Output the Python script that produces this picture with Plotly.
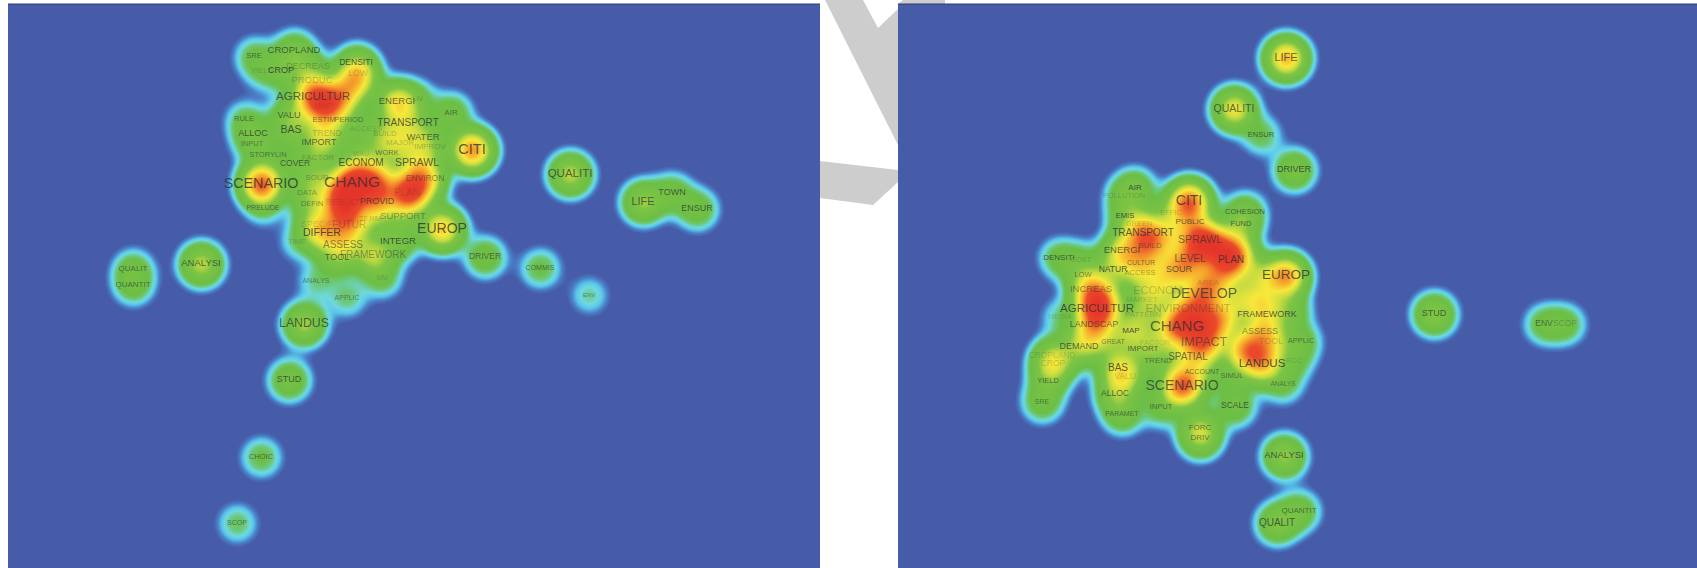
import numpy as np
import plotly.graph_objects as go

W, H = 1697, 568
A_RANGE = (8, 820)
B_RANGE = (898, 1697)
Y_RANGE = (4, 568)

A_TERMS = ["SRE","CROPLAND","DECREAS","DENSITI","YIELD","CROP","LOW","PRODUC","AGRICULTUR","MAP","ENERGI","LIV","AIR","RULE","VALU","ESTIM","PERIOD","ACCESS","TRANSPORT","BAS","ALLOC","TREND","BUILD","WATER","INPUT","IMPORT","MAJOR","IMPROV","CITI","STORYLIN","COVER","FACTOR","WAU","WORK","ECONOM","SPRAWL","SOUR","ENVIRON","SCENARIO","CHANG","DATA","PLAN","PRELUDE","DEFIN","RESULT","PROVID","TERM","SUPPORT","SPECIF","FUTUR","DIFFER","EUROP","TIME","ASSESS","INTEGR","FRAMEWORK","TOOL","DRIVER","ANALYS","APPLIC","SIM","LANDUS","ANALYSI","QUALIT","QUANTIT","COMMIS","ENV","STUD","CHOIC","SCOP","QUALITI","LIFE","TOWN","ENSUR","","","","","",""]
A_X = [254,294,308,356,262,281,358,312,313,323,397,418,451,244,289,324,349,366,408,291,253,327,385,423,252,319,400,430,472,268,295,318,361,387,361,417,317,425,261,352,307,407,263,312,343,377,370,403,317,349,322,442,297,343,398,373,337,485,316,347,382,304,201,133,133,540,589,289,261,237,570,643,672,697,375,340,335,350,412,345]
A_Y = [56,51,67,63,71,71,74,81,97,107,102,99,113,119,116,120,120,129,123,130,134,134,134,138,144,143,143,147,150,155,164,158,154,153,163,163,178,179,184,183,193,193,208,204,203,202,219,217,225,225,233,229,242,245,242,255,258,257,281,298,278,324,264,269,285,268,295,380,457,523,174,202,193,209,182,197,100,88,190,215]
A_WEIGHT = [.1,.18,.1,.12,.06,.12,.35,.14,.5,.3,.42,.08,.15,.08,.15,.08,.08,.06,.18,.14,.12,.2,.18,.16,.07,.15,.18,.1,.62,.06,.1,.08,.08,.1,.14,.22,.15,.38,.72,.75,.12,.55,.06,.1,.4,.38,.1,.12,.2,.32,.3,.5,.06,.22,.15,.3,.14,.15,.07,.08,.1,.3,.33,.12,.12,.11,.07,.18,.11,.09,.33,.28,.14,.15,.55,.3,.4,.28,.25,.18]
A_FONT = [7.5,9.5,9,8.5,7.5,9,8.5,9.5,11.5,8.5,9.5,7,8,7.5,9,7.5,7.5,8,10,10.5,9,8.5,8,9.5,7.5,9,8,8,14.5,7.5,8.5,8,7,7.5,10,10.5,8,8.5,14.3,15.5,8,10,7,7.5,9,9,8,9.5,9,10,10.5,14,7.5,10,9.5,10,9,8.5,7,7,6.5,12.3,9.5,8,8,7,6,9,7.5,7,11.5,11,9,9,8,8,8,8,8,8]
A_ALPHA = [.6,.7,.3,.75,.25,.8,.25,.3,.7,.2,.7,.3,.6,.6,.7,.6,.6,.2,.75,.75,.75,.3,.3,.7,.5,.7,.3,.3,.75,.55,.7,.3,.25,.6,.75,.75,.4,.5,.75,.7,.4,.2,.6,.5,.2,.7,.25,.45,.2,.3,.8,.75,.25,.55,.75,.45,.7,.6,.5,.5,.25,.7,.7,.6,.6,.6,.5,.7,.6,.6,.7,.7,.7,.7,0,0,0,0,0,0]

B_TERMS = ["DRIVER","AIR","POLLUTION","CITI","EMIS","EFFIC","COHESION","GREEN","PUBLIC","FUND","TRANSPORT","SPRAWL","BUILD","ENERGI","LEVEL","PLAN","DENSITI","COST","CULTUR","NATUR","ACCESS","SOUR","LOW","INCREAS","EUROP","AREA","DEVELOP","ECONOM","MARKET","AGRICULTUR","ENVIRONMENT","PATTERN","FRAMEWORK","LANDSCAP","MAP","CHANG","ASSESS","MEDIA","DEMAND","GREAT","IMPORT","IMPACT","FACTOR","TOOL","APPLIC","SPATIAL","TREND","CROPLAND","CROP","LANDUS","ROC","BAS","VALU","ACCOUNT","SIMUL","YIELD","SCENARIO","ANALYS","ALLOC","SRE","INPUT","SCALE","PARAMET","FORC","DRIV","ANALYSI","QUANTIT","QUALIT","STUD","ENV","SCOP","LIFE","QUALITI","ENSUR","","","","","","","","","","","","","",""]
B_X = [1294,1135,1124,1189,1125,1171,1245,1139,1190,1241,1143,1200,1150,1122,1190,1231,1059,1081,1141,1113,1140,1179,1083,1091,1286,1208,1204,1158,1142,1097,1188,1143,1267,1094,1131,1177,1260,1060,1079,1113,1143,1204,1155,1271,1301,1188,1158,1052,1053,1262,1294,1118,1125,1202,1232,1048,1182,1283,1115,1042,1161,1235,1122,1200,1200,1284,1299,1277,1434,1544,1565,1286,1234,1261,1215,1235,1165,1240,1262,1220,1200,1245,1290,1170,1220,1260,1105,1090]
B_Y = [170,188,196,201,216,213,212,224,222,224,233,240,246,251,259,260,258,260,263,270,273,270,275,290,276,283,294,291,300,309,309,315,315,325,331,327,332,317,347,342,349,343,343,342,341,357,361,356,364,364,361,368,377,372,376,381,386,384,394,402,407,406,414,428,438,456,511,523,314,324,324,58,109,135,245,250,235,300,300,320,322,350,310,270,275,275,300,340]
B_WEIGHT = [.2,.15,.1,.65,.1,.12,.14,.14,.2,.14,.35,.6,.3,.35,.35,.5,.12,.08,.2,.16,.16,.22,.1,.42,.6,.18,.4,.28,.1,.6,.35,.14,.18,.3,.22,.6,.25,.07,.18,.12,.1,.55,.12,.25,.12,.22,.1,.14,.28,.45,.09,.25,.24,.14,.1,.1,.7,.1,.18,.14,.12,.15,.15,.2,.2,.28,.15,.22,.26,.12,.12,.55,.42,.1,.45,.3,.25,.25,.25,.42,.4,.5,.15,.2,.25,.22,.2,.18]
B_FONT = [9,8,7.5,14,7.5,7.5,7.5,7.5,8,7.5,10,10.5,8,9.5,10,10,8,7.5,7,8.5,7.5,9,7.5,9.5,13.5,8,14,11,7.5,11.5,11.5,8,9,9,8,15,9,7.5,9,7,8,12.5,7.5,9,7.5,10,8,8.5,8.5,11.5,7.5,10,8.5,7,7.5,7.5,14,6.5,8.5,7,7.5,8.5,7,8,8,9.5,8,10,9,8.5,8.5,11,10.5,7.5,8,8,8,8,8,8,8,8,8,8,8,8,8,8]
B_ALPHA = [.75,.75,.25,.75,.8,.25,.7,.25,.7,.7,.75,.6,.5,.7,.65,.75,.75,.25,.6,.8,.4,.7,.55,.5,.75,.25,.7,.25,.25,.75,.3,.25,.75,.65,.8,.7,.55,.2,.7,.55,.7,.55,.2,.25,.55,.65,.55,.2,.25,.8,.2,.75,.25,.6,.55,.65,.7,.5,.7,.55,.6,.7,.6,.6,.6,.7,.6,.7,.7,.6,.3,.7,.7,.7,0,0,0,0,0,0,0,0,0,0,0,0,0,0]

SIGMA = 13.0
STEP = 2
COLORS = [[0,"#465CA8"],[.016,"#465CA8"],[.028,"#4A80C8"],[.042,"#58C4EA"],[.056,"#6ED8E0"],[.078,"#6CC878"],[.105,"#6CBE45"],[.25,"#7DC444"],[.35,"#C8DC40"],[.45,"#F7E83A"],[.6,"#F6A62C"],[.76,"#EA4A2A"],[1,"#E5352A"]]


def density(xr, xs, ys, ws):
    gx = np.arange(xr[0], xr[1] + STEP, STEP, dtype=float)
    gy = np.arange(Y_RANGE[0], Y_RANGE[1] + STEP, STEP, dtype=float)
    xx, yy = np.meshgrid(gx, gy)
    z = np.zeros_like(xx)
    for x, y, w in zip(xs, ys, ws):
        z += w * np.exp(-((xx - x) ** 2 + (yy - y) ** 2) / (2 * SIGMA ** 2))
    return gx, gy, np.round(np.minimum(z, 1.0), 3)


fig = go.Figure()
panels = [
    ("x", "y", A_RANGE, A_TERMS, A_X, A_Y, A_WEIGHT, A_FONT, A_ALPHA),
    ("x2", "y2", B_RANGE, B_TERMS, B_X, B_Y, B_WEIGHT, B_FONT, B_ALPHA),
]
for xa, ya, xr, terms, xs, ys, ws, fs, al in panels:
    gx, gy, z = density(xr, xs, ys, ws)
    fig.add_trace(go.Heatmap(x=gx, y=gy, z=z, zmin=0, zmax=1, zsmooth="best",
                             colorscale=COLORS, showscale=False, hoverinfo="skip",
                             xaxis=xa, yaxis=ya))
    fig.add_trace(go.Scatter(x=xs, y=ys, text=terms, mode="text", hoverinfo="skip",
                             textposition="middle center", showlegend=False,
                             textfont=dict(family="Liberation Sans, Arial, sans-serif", size=fs,
                                           color=[f"rgba(35,45,50,{a})" for a in al]),
                             xaxis=xa, yaxis=ya))

axis = dict(showgrid=False, zeroline=False, showticklabels=False, ticks="", showline=False)
top = 1 - Y_RANGE[0] / H
fig.update_layout(
    width=W, height=H, margin=dict(l=0, r=0, t=0, b=0), showlegend=False,
    paper_bgcolor="white", plot_bgcolor="#465CA8",
    xaxis=dict(axis, domain=[A_RANGE[0] / W, A_RANGE[1] / W], range=list(A_RANGE)),
    xaxis2=dict(axis, domain=[B_RANGE[0] / W, B_RANGE[1] / W], range=list(B_RANGE)),
    yaxis=dict(axis, domain=[0, top], range=[Y_RANGE[1], Y_RANGE[0]]),
    yaxis2=dict(axis, domain=[0, top], range=[Y_RANGE[1], Y_RANGE[0]]),
)


def poly(pts, color):
    d = "M" + " L".join(f"{px / W:.5f},{1 - py / H:.5f}" for px, py in pts) + " Z"
    return dict(type="path", xref="paper", yref="paper", path=d, fillcolor=color,
                line=dict(width=0), layer="below")


GRAY = "#CDCDCD"
NAVY = "#2B3A70"
fig.update_layout(shapes=[
    poly([(825, 0), (863, 0), (878, 28), (898, 9), (898, 145)], GRAY),
    poly([(820, 161), (898, 170), (898, 182), (873, 205), (820, 198)], GRAY),
    poly([(898, 4), (903, 0), (945, 0), (945, 4)], GRAY),
    dict(type="line", xref="paper", yref="paper", x0=8 / W, x1=820 / W, y0=top, y1=top,
         line=dict(color=NAVY, width=1)),
    dict(type="line", xref="paper", yref="paper", x0=898 / W, x1=1, y0=top, y1=top,
         line=dict(color=NAVY, width=1)),
])

fig.write_html("out.html", config={"displayModeBar": False},
               post_script="document.body.style.margin='0';document.body.style.overflow='hidden';")
